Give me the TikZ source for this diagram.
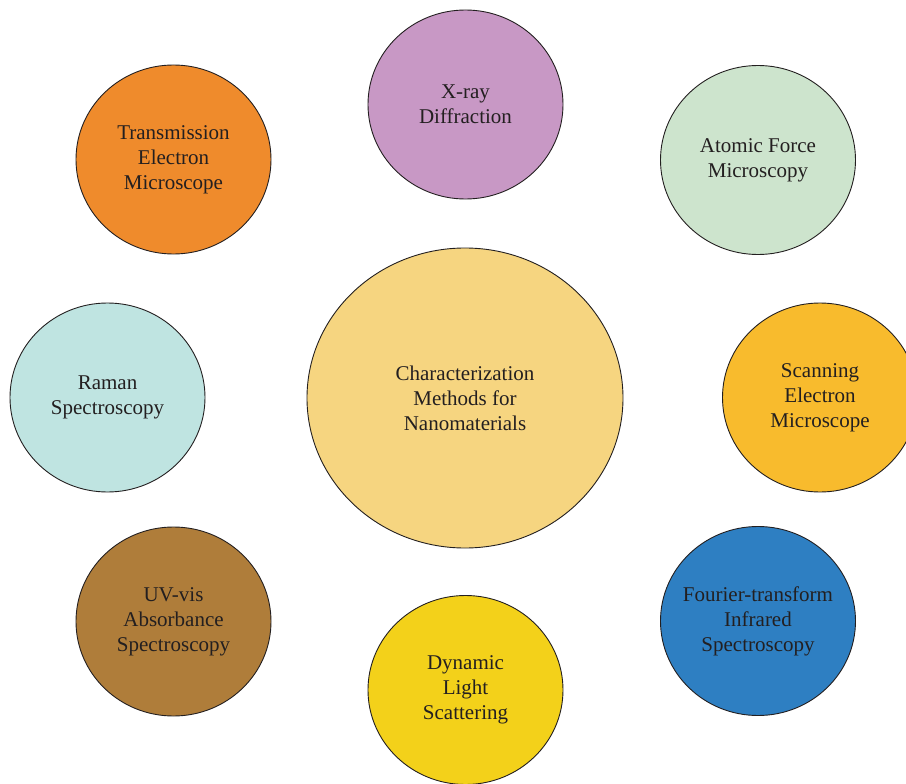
\documentclass[tikz,border=0pt]{standalone}
\usepackage{fontspec}
\setmainfont{Liberation Serif}
\usepackage{tikz}
\usetikzlibrary{shapes.geometric}

\definecolor{inkcol}{HTML}{231F20}
\definecolor{mainfill}{HTML}{F6D580}
\definecolor{temfill}{HTML}{EF8B2C}
\definecolor{xrdfill}{HTML}{C898C5}
\definecolor{afmfill}{HTML}{CDE4CD}
\definecolor{ramanfill}{HTML}{BFE4E1}
\definecolor{semfill}{HTML}{F8BB2D}
\definecolor{uvfill}{HTML}{AF7D3A}
\definecolor{ftirfill}{HTML}{2E7FC2}
\definecolor{dlsfill}{HTML}{F3D11A}

\tikzset{
  method/.style={ellipse, draw=inkcol, line width=0.9pt, text=inkcol, align=center,
    inner sep=-25pt, minimum width=195pt, minimum height=189pt,
    font=\fontsize{21}{25}\selectfont},
  hub/.style={method, minimum width=316pt, minimum height=300pt}
}

\begin{document}
\begin{tikzpicture}[x=1pt,y=-1pt]

% Rahmen
\useasboundingbox (0,0) rectangle (906,784);
\clip (0,0) rectangle (906,784);

% Mitte
\node[hub, fill=mainfill] (center) at (465,398) {Characterization\\Methods for\\Nanomaterials};

% obere Reihe
\node[method, fill=temfill] (tem) at (173.5,159.5) {Transmission\\Electron\\Microscope};
\node[method, fill=xrdfill] (xrd) at (465.5,104.5) {X-ray\\Diffraction};
\node[method, fill=afmfill] (afm) at (758,160) {Atomic Force\\Microscopy};

% mittlere Reihe
\node[method, fill=ramanfill] (raman) at (107.5,397.5) {Raman\\Spectroscopy};
\node[method, fill=semfill] (sem) at (820,397.5) {Scanning\\Electron\\Microscope};

% untere Reihe
\node[method, fill=uvfill] (uvvis) at (173.5,621.5) {UV-vis\\Absorbance\\Spectroscopy};
\node[method, fill=dlsfill] (dls) at (465.5,690) {Dynamic\\Light\\Scattering};
\node[method, fill=ftirfill] (ftir) at (758,621) {Fourier-transform\\Infrared\\Spectroscopy};

\end{tikzpicture}
\end{document}
